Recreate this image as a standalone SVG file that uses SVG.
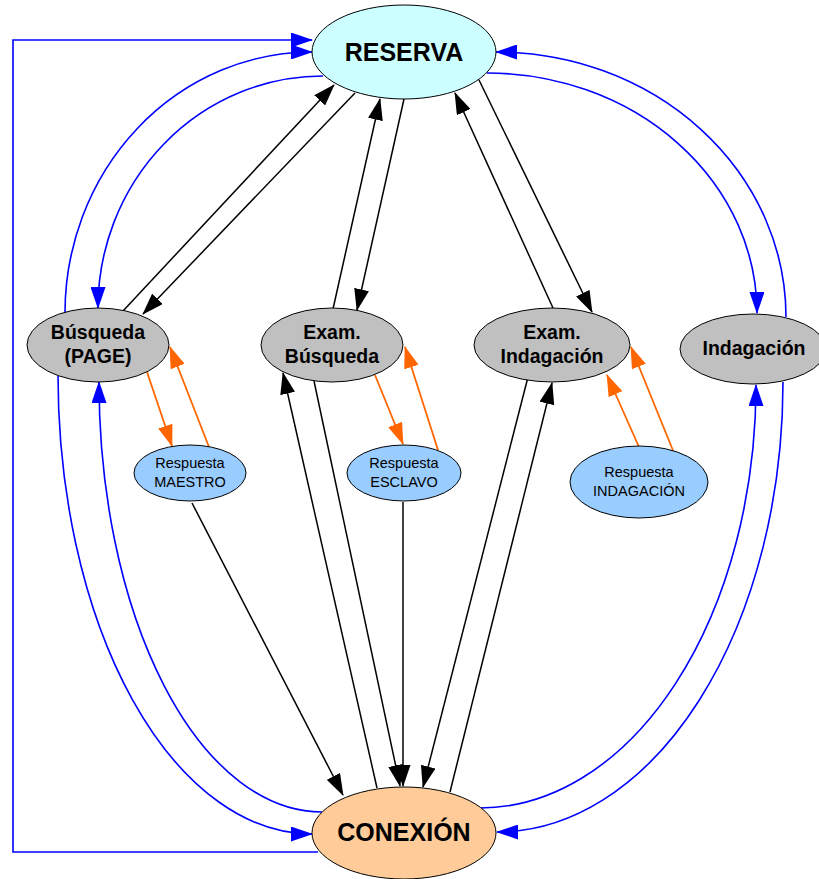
<svg xmlns="http://www.w3.org/2000/svg" width="819" height="879" viewBox="0 0 819 879">
  <style>
    .blue { fill: none; stroke: #0000FF; stroke-width: 1.6; marker-end: url(#ahBlue); }
    .black { fill: none; stroke: #000000; stroke-width: 1.5; marker-end: url(#ahBlack); }
    .orange { fill: none; stroke: #FF6600; stroke-width: 1.8; marker-end: url(#ahOrange); }
    .node { stroke: #000000; stroke-width: 1; }
    .big { font-family: "Liberation Sans", Arial, sans-serif; font-weight: bold; font-size: 25px; text-anchor: middle; fill: #000; }
    .mid { font-family: "Liberation Sans", Arial, sans-serif; font-weight: bold; font-size: 19.5px; text-anchor: middle; fill: #000; }
    .small { font-family: "Liberation Sans", Arial, sans-serif; font-size: 14.5px; text-anchor: middle; fill: #000; }
  </style>
  <defs>
    <marker id="ahBlue" viewBox="0 0 22 15" markerUnits="userSpaceOnUse" markerWidth="22" markerHeight="15" refX="21" refY="7.5" orient="auto">
      <path d="M0,0 L22,7.5 L0,15 z" fill="#0000FF"/>
    </marker>
    <marker id="ahBlack" viewBox="0 0 22 15" markerUnits="userSpaceOnUse" markerWidth="22" markerHeight="15" refX="21" refY="7.5" orient="auto">
      <path d="M0,0 L22,7.5 L0,15 z" fill="#000000"/>
    </marker>
    <marker id="ahOrange" viewBox="0 0 22 15" markerUnits="userSpaceOnUse" markerWidth="22" markerHeight="15" refX="21" refY="7.5" orient="auto">
      <path d="M0,0 L22,7.5 L0,15 z" fill="#FF6600"/>
    </marker>
  </defs>

  <g id="connectors">
    <!-- blue state transitions -->
    <path class="blue" d="M 318 852 H 13 V 40 H 312"/>
    <path class="blue" d="M 65 313 A 247 261 0 0 1 312 52"/>
    <path class="blue" d="M 323 76 A 225 232 0 0 0 98 308"/>
    <path class="blue" d="M 786 317 A 290 265 0 0 0 496 52"/>
    <path class="blue" d="M 487 73 A 270 240 0 0 1 757 313"/>
    <path class="blue" d="M 58 375 A 254 459 0 0 0 312 834"/>
    <path class="blue" d="M 322 812 A 223 430 0 0 1 99 382"/>
    <path class="blue" d="M 480 808 A 276 423 0 0 0 756 385"/>
    <path class="blue" d="M 783 382 A 286 450 0 0 1 497 832"/>

    <!-- black transitions -->
    <path class="black" d="M 123 311 L 334 85"/>
    <path class="black" d="M 355 93 L 143 314"/>
    <path class="black" d="M 333 309 L 380 99"/>
    <path class="black" d="M 404 99 L 357 310"/>
    <path class="black" d="M 553 308 L 455 93"/>
    <path class="black" d="M 479 80 L 592 312"/>
    <path class="black" d="M 377 788 L 283 373"/>
    <path class="black" d="M 314 381 L 400 786"/>
    <path class="black" d="M 528 377 L 423 787"/>
    <path class="black" d="M 450 792 L 552 383"/>
    <path class="black" d="M 192 503 L 343 795"/>
    <path class="black" d="M 403 502 L 403 786"/>

    <!-- orange responses -->
    <path class="orange" d="M 147 372 L 172 446"/>
    <path class="orange" d="M 209 447 L 170 347"/>
    <path class="orange" d="M 375 375 L 403 444"/>
    <path class="orange" d="M 438 450 L 405 347"/>
    <path class="orange" d="M 639 447 L 607 375"/>
    <path class="orange" d="M 674 453 L 631 347"/>
  </g>

  <g id="reserva">
    <ellipse class="node" cx="404" cy="52" rx="92" ry="47" fill="#CCFFFF"/>
    <text class="big" x="404" y="61">RESERVA</text>
  </g>

  <g id="conexion">
    <ellipse class="node" cx="404" cy="833" rx="92" ry="46" fill="#FFCC99"/>
    <text class="big" x="404" y="841">CONEXIÓN</text>
  </g>

  <g id="busqueda-page">
    <ellipse class="node" cx="98" cy="345" rx="71" ry="37" fill="#C0C0C0"/>
    <text class="mid" x="98" y="339">Búsqueda</text>
    <text class="mid" x="98" y="363">(PAGE)</text>
  </g>

  <g id="exam-busqueda">
    <ellipse class="node" cx="332" cy="345" rx="71" ry="37" fill="#C0C0C0"/>
    <text class="mid" x="332" y="339">Exam.</text>
    <text class="mid" x="332" y="363">Búsqueda</text>
  </g>

  <g id="exam-indagacion">
    <ellipse class="node" cx="552" cy="345" rx="78" ry="37" fill="#C0C0C0"/>
    <text class="mid" x="552" y="339">Exam.</text>
    <text class="mid" x="552" y="363">Indagación</text>
  </g>

  <g id="indagacion">
    <ellipse class="node" cx="753" cy="349" rx="73" ry="35" fill="#C0C0C0"/>
    <text class="mid" x="754" y="355">Indagación</text>
  </g>

  <g id="respuesta-maestro">
    <ellipse class="node" cx="190" cy="473" rx="56" ry="28" fill="#99CCFF"/>
    <text class="small" x="190" y="468">Respuesta</text>
    <text class="small" x="190" y="487">MAESTRO</text>
  </g>

  <g id="respuesta-esclavo">
    <ellipse class="node" cx="404" cy="473" rx="57" ry="28" fill="#99CCFF"/>
    <text class="small" x="404" y="468">Respuesta</text>
    <text class="small" x="404" y="487">ESCLAVO</text>
  </g>

  <g id="respuesta-indagacion">
    <ellipse class="node" cx="639" cy="482" rx="69" ry="36" fill="#99CCFF"/>
    <text class="small" x="639" y="477">Respuesta</text>
    <text class="small" x="639" y="496">INDAGACIÓN</text>
  </g>
</svg>
